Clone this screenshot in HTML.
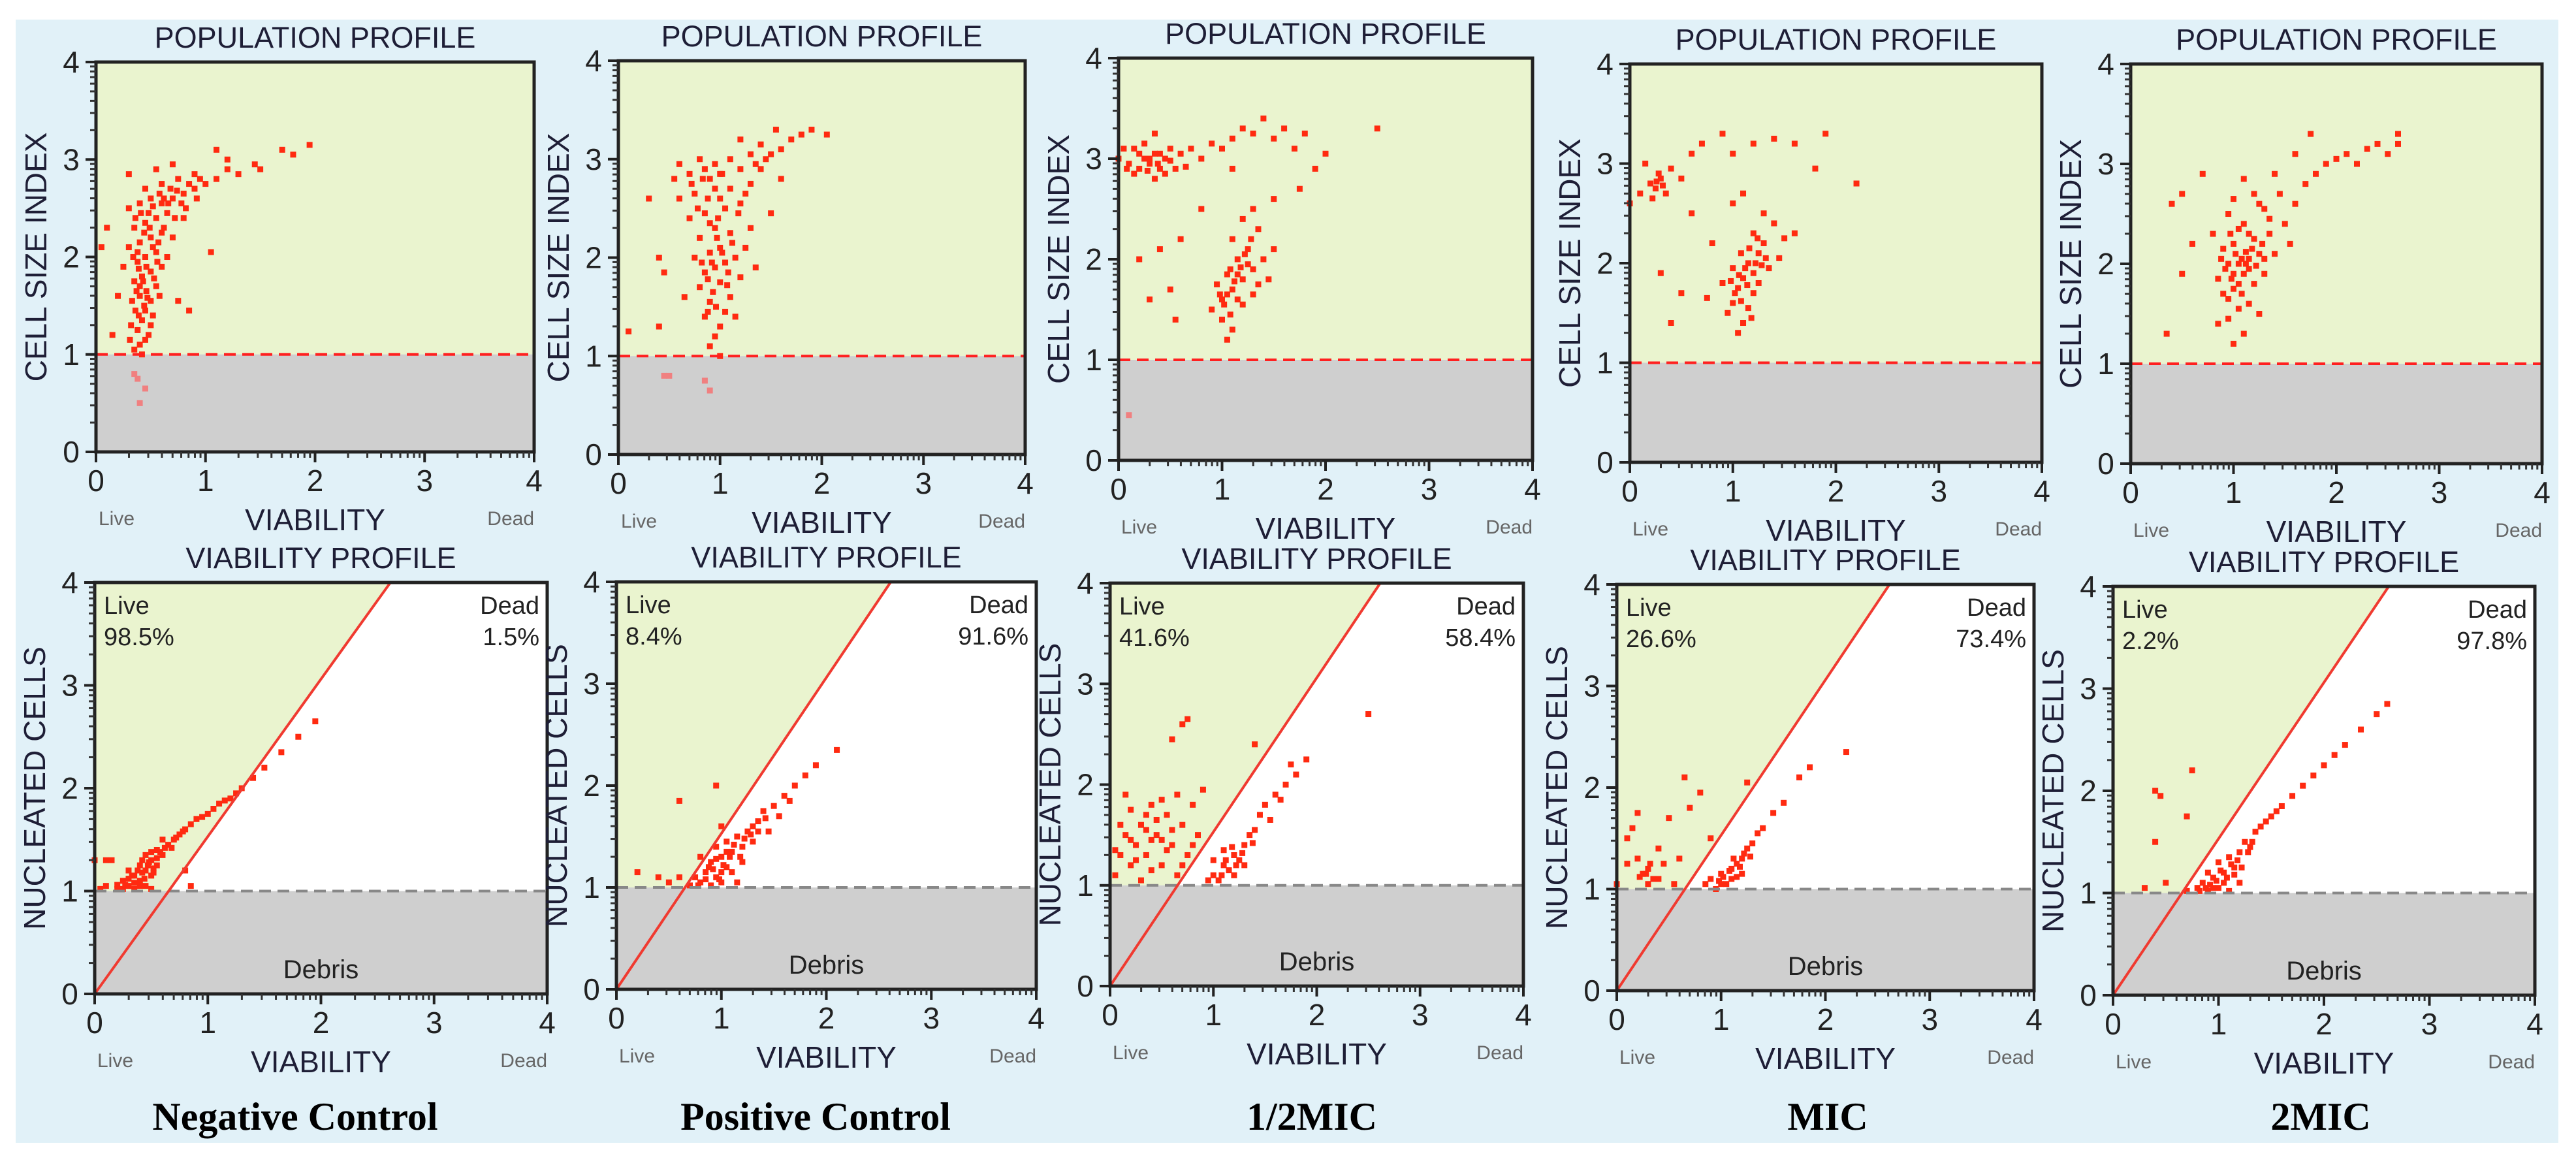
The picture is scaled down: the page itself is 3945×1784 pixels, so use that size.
<!DOCTYPE html>
<html><head><meta charset="utf-8">
<style>
html,body{margin:0;padding:0;background:#fff;}
svg{display:block;font-family:"Liberation Sans",sans-serif;}
</style></head>
<body>
<svg id="fig" width="3945" height="1784" viewBox="0 0 3945 1784" xmlns="http://www.w3.org/2000/svg">
<rect x="24" y="30" width="3894" height="1720" fill="#e1f1f8"/>
</svg>
<script>
// ---- data ----
const groupNames = ["Negative Control","Positive Control","1/2MIC","MIC","2MIC"];
const livePct = ["98.5%","8.4%","41.6%","26.6%","2.2%"];
const deadPct = ["1.5%","91.6%","58.4%","73.4%","97.8%"];
const tickLabels = ["0","1","2","3","4"];
const negPop = [[0.35,1.05],[0.4,1.1],[0.45,1.15],[0.38,1.25],[0.42,1.35],[0.5,1.3],[0.36,1.45],[0.44,1.5],[0.5,1.55],[0.4,1.6],[0.46,1.65],[0.55,1.7],[0.35,1.75],[0.42,1.8],[0.5,1.85],[0.6,1.9],[0.38,1.95],[0.45,2.0],[0.55,2.05],[0.65,2.0],[0.3,2.1],[0.4,2.15],[0.5,2.2],[0.6,2.25],[0.7,2.2],[0.35,2.3],[0.45,2.35],[0.55,2.4],[0.65,2.45],[0.8,2.4],[0.3,2.5],[0.4,2.55],[0.5,2.6],[0.6,2.55],[0.7,2.6],[0.8,2.65],[0.9,2.7],[1.0,2.75],[0.45,2.7],[0.6,2.75],[0.75,2.8],[0.9,2.85],[1.1,2.8],[1.2,2.9],[1.3,2.85],[1.45,2.95],[0.55,2.9],[0.7,2.95],[0.3,2.85],[1.1,3.1],[1.2,3.0],[1.7,3.1],[1.8,3.05],[1.95,3.15],[1.5,2.9],[0.05,2.1],[0.1,2.3],[0.15,1.2],[0.2,1.6],[0.25,1.9],[0.35,0.8],[0.38,0.75],[0.45,0.65],[0.4,0.5],[1.05,2.05],[0.85,1.45],[0.75,1.55],[0.42,1.0],[0.48,1.2],[0.52,1.4],[0.58,1.6],[0.32,1.3],[0.46,1.9],[0.52,2.1],[0.62,2.3],[0.72,2.4],[0.82,2.5],[0.92,2.6],[0.4,1.7],[0.45,1.45],[0.38,2.05],[0.48,2.45],[0.58,2.65],[0.68,2.7],[0.33,1.55],[0.37,1.65],[0.43,1.75],[0.47,1.58],[0.53,1.78],[0.39,1.88],[0.44,2.25],[0.49,2.3],[0.57,2.15],[0.36,2.4],[0.41,2.45],[0.52,2.52],[0.62,2.6],[0.74,2.68],[0.85,2.75],[0.95,2.8],[0.31,1.15],[0.39,1.4],[0.56,1.95],[0.34,2.0],[0.66,2.55],[0.78,2.55]];
const posPop = [[0.9,1.1],[0.95,1.2],[1.0,1.3],[0.85,1.4],[1.05,1.45],[0.9,1.55],[1.1,1.6],[0.8,1.7],[1.0,1.75],[1.2,1.8],[0.85,1.85],[0.95,1.9],[1.05,1.95],[1.15,2.0],[0.75,2.0],[0.9,2.05],[1.0,2.1],[1.25,2.1],[0.8,2.2],[1.1,2.25],[0.95,2.3],[1.3,2.3],[0.7,2.4],[0.85,2.45],[1.05,2.5],[1.2,2.55],[0.6,2.6],[0.75,2.65],[0.95,2.7],[1.1,2.7],[1.3,2.75],[0.55,2.8],[0.7,2.85],[0.85,2.9],[1.0,2.85],[1.2,2.9],[1.4,2.9],[0.6,2.95],[0.8,3.0],[1.1,3.0],[1.3,3.05],[1.5,3.05],[1.6,3.1],[1.4,3.15],[1.7,3.2],[1.8,3.25],[1.9,3.3],[2.05,3.25],[1.55,3.3],[1.2,3.2],[0.4,2.0],[0.3,2.6],[0.45,1.85],[0.1,1.25],[0.4,1.3],[0.5,0.8],[0.45,0.8],[0.85,0.75],[0.9,0.65],[1.0,1.0],[1.15,1.4],[1.35,1.9],[1.5,2.45],[1.6,2.8],[0.65,1.6],[1.25,2.65],[0.98,2.4],[0.88,2.6],[0.92,1.95],[1.02,2.05],[0.9,2.8],[1.0,2.6],[0.88,1.78],[0.93,1.65],[1.07,1.72],[0.82,1.95],[0.97,2.2],[1.12,2.15],[0.78,2.5],[0.9,2.35],[1.02,2.85],[0.72,2.75],[0.83,2.8],[0.95,2.95],[1.35,2.95],[1.45,3.0],[1.18,2.45],[0.88,1.45],[0.96,1.5],[1.08,1.85]];
const halfPop = [[0.0,3.0],[0.1,2.95],[0.2,3.05],[0.3,3.0],[0.4,2.9],[0.5,3.1],[0.25,3.15],[0.35,2.8],[0.45,3.0],[0.6,3.05],[0.15,2.85],[0.55,2.9],[0.7,3.1],[0.8,3.0],[0.9,3.15],[1.0,3.1],[1.1,3.2],[1.2,3.3],[1.3,3.25],[1.4,3.4],[1.5,3.2],[1.6,3.3],[1.7,3.1],[1.8,3.25],[1.9,2.9],[2.0,3.05],[1.75,2.7],[1.5,2.6],[2.5,3.3],[1.1,2.9],[0.35,3.25],[0.05,3.1],[0.8,2.5],[0.6,2.2],[0.4,2.1],[0.2,2.0],[0.5,1.7],[0.3,1.6],[0.55,1.4],[0.9,1.5],[1.0,1.6],[1.1,1.7],[1.2,1.8],[1.3,1.9],[1.4,2.0],[1.05,1.85],[1.15,2.0],[1.25,2.1],[1.35,2.3],[1.1,2.2],[1.2,2.4],[1.0,1.4],[1.1,1.3],[1.05,1.2],[1.2,1.55],[1.3,1.65],[1.45,1.8],[1.5,2.1],[0.95,1.75],[1.15,1.6],[1.08,1.9],[1.25,1.95],[1.3,2.5],[0.1,0.45],[0.3,2.95],[0.4,3.05],[0.2,2.9],[0.25,3.0],[0.35,3.05],[0.45,2.85],[0.15,3.1],[0.28,2.88],[0.38,2.95],[0.5,2.98],[0.65,2.92],[0.08,2.9],[1.05,1.65],[1.12,1.78],[1.18,1.92],[1.02,1.55],[1.22,2.05],[1.08,1.45],[1.28,2.2],[1.15,1.85],[0.98,1.65],[1.35,1.75]];
const micPop = [[0.2,2.8],[0.25,2.75],[0.3,2.85],[0.35,2.7],[0.28,2.9],[0.22,2.65],[0.4,2.95],[0.15,3.0],[0.5,2.85],[0.1,2.7],[0.6,3.1],[0.7,3.2],[0.9,3.3],[1.0,3.1],[1.2,3.2],[1.4,3.25],[1.6,3.2],[1.9,3.3],[2.2,2.8],[1.8,2.95],[0.0,2.6],[0.3,1.9],[0.5,1.7],[0.4,1.4],[0.8,2.2],[0.6,2.5],[0.95,1.5],[1.0,1.6],[1.05,1.75],[1.1,1.85],[1.0,1.95],[1.15,2.0],[1.25,2.1],[1.3,2.2],[1.2,2.3],[1.4,2.4],[1.1,1.4],[1.05,1.3],[1.15,1.55],[1.25,1.8],[1.35,1.95],[1.45,2.05],[1.5,2.25],[0.9,1.8],[1.3,2.5],[1.2,1.7],[1.08,2.1],[1.18,1.45],[1.0,2.6],[1.1,2.7],[0.75,1.65],[1.6,2.3],[1.12,1.95],[1.22,2.0],[0.26,2.82],[0.32,2.78],[1.02,1.7],[1.08,1.62],[1.14,1.78],[1.2,1.9],[1.28,1.98],[1.06,1.88],[0.98,1.82],[1.16,2.15],[1.24,2.25],[1.32,2.05]];
const twoPop = [[1.0,1.2],[1.1,1.3],[0.95,1.45],[1.05,1.55],[1.15,1.6],[0.9,1.7],[1.0,1.75],[1.2,1.8],[0.85,1.85],[1.1,1.9],[1.3,1.9],[0.95,2.0],[1.05,2.0],[1.15,2.05],[1.25,2.1],[1.4,2.1],[0.9,2.15],[1.0,2.2],[1.2,2.25],[1.35,2.3],[0.8,2.3],[1.1,2.4],[1.5,2.4],[0.95,2.5],[1.3,2.55],[1.6,2.6],[1.0,2.65],[1.2,2.7],[1.45,2.7],[1.7,2.8],[1.1,2.85],[1.4,2.9],[1.8,2.9],[1.9,3.0],[2.0,3.05],[2.1,3.1],[2.2,3.0],[2.3,3.15],[2.4,3.2],[2.5,3.1],[2.6,3.2],[2.6,3.3],[1.6,3.1],[1.75,3.3],[0.7,2.9],[0.5,2.7],[0.4,2.6],[0.35,1.3],[0.5,1.9],[0.6,2.2],[1.55,2.2],[1.25,1.5],[0.85,1.4],[1.05,2.35],[1.15,1.95],[1.3,2.05],[1.08,2.05],[1.12,2.12],[1.0,1.9],[0.92,1.95],[0.98,1.85],[1.05,1.8],[1.12,2.0],[1.18,2.15],[1.22,1.98],[0.95,1.65],[1.02,2.1],[1.08,1.7],[0.88,2.05],[1.28,2.2],[1.15,2.3],[0.97,2.3],[1.35,2.45],[1.25,2.6]];
const negVia = [[0.05,1.02],[0.1,1.05],[0.2,1.02],[0.25,1.1],[0.3,1.05],[0.35,1.15],[0.4,1.1],[0.45,1.2],[0.5,1.15],[0.55,1.25],[0.3,1.2],[0.4,1.25],[0.5,1.3],[0.6,1.35],[0.45,1.35],[0.55,1.4],[0.65,1.45],[0.6,1.5],[0.7,1.5],[0.75,1.55],[0.8,1.6],[0.85,1.65],[0.9,1.7],[1.0,1.75],[1.1,1.85],[1.2,1.9],[1.3,2.0],[1.4,2.1],[1.5,2.2],[1.65,2.35],[1.8,2.5],[1.95,2.65],[0.0,1.3],[0.1,1.3],[0.15,1.3],[0.8,1.2],[0.85,1.05],[0.35,1.02],[0.45,1.05],[0.5,1.02],[0.25,1.02],[0.4,1.05],[0.35,1.08],[0.42,1.18],[0.52,1.22],[0.62,1.42],[0.48,1.28],[0.2,1.06],[0.3,1.12],[0.38,1.2],[0.47,1.25],[0.55,1.32],[0.58,1.38],[0.68,1.42],[0.72,1.52],[0.78,1.58],[0.95,1.72],[1.05,1.8],[1.15,1.88],[1.25,1.95],[0.42,1.3],[0.5,1.38],[0.33,1.15],[0.27,1.06],[0.44,1.12],[0.52,1.18]];
const posVia = [[0.7,1.02],[0.8,1.05],[0.9,1.02],[1.0,1.05],[0.75,1.1],[0.85,1.15],[0.95,1.1],[1.05,1.2],[0.9,1.25],[1.0,1.3],[1.1,1.35],[0.95,1.4],[1.05,1.45],[1.15,1.5],[1.2,1.4],[1.25,1.55],[1.3,1.6],[1.35,1.65],[1.4,1.75],[1.5,1.8],[1.6,1.9],[1.65,1.85],[1.7,2.0],[1.8,2.1],[1.9,2.2],[2.1,2.35],[1.1,1.15],[1.2,1.25],[0.6,1.1],[0.5,1.05],[0.4,1.1],[0.2,1.15],[0.6,1.85],[0.95,2.0],[1.15,1.05],[0.8,1.3],[1.0,1.6],[1.3,1.45],[1.45,1.55],[1.55,1.7],[0.92,1.18],[1.02,1.22],[0.85,1.08],[0.95,1.28],[1.0,1.15],[1.08,1.3],[1.12,1.42],[0.88,1.2],[0.78,1.02],[1.18,1.3],[1.22,1.48],[1.28,1.52],[1.35,1.55],[1.42,1.68],[1.05,1.35],[0.98,1.08]];
const halfVia = [[0.05,1.1],[0.1,1.3],[0.15,1.5],[0.2,1.2],[0.25,1.4],[0.3,1.6],[0.35,1.3],[0.4,1.8],[0.45,1.5],[0.5,1.2],[0.55,1.7],[0.6,1.4],[0.65,1.9],[0.7,1.6],[0.75,1.3],[0.8,1.8],[0.85,1.5],[0.9,1.95],[0.3,1.05],[0.5,1.45],[0.2,1.75],[0.4,1.15],[0.15,1.9],[0.65,1.1],[0.1,1.6],[0.35,1.55],[0.7,2.6],[0.75,2.65],[0.6,2.45],[1.4,2.4],[2.5,2.7],[0.95,1.05],[1.0,1.1],[1.05,1.05],[1.1,1.2],[1.15,1.15],[1.2,1.3],[1.25,1.25],[1.3,1.4],[1.35,1.5],[1.4,1.55],[1.45,1.7],[1.5,1.8],[1.6,1.9],[1.7,2.0],[1.8,2.1],[1.9,2.25],[1.2,1.1],[1.3,1.2],[1.1,1.35],[1.0,1.25],[1.55,1.65],[1.65,1.85],[1.75,2.2],[0.25,1.25],[0.45,1.65],[0.55,1.35],[0.35,1.7],[0.6,1.55],[0.2,1.45],[0.4,1.45],[0.7,1.2],[0.8,1.4],[0.5,1.85],[1.12,1.25],[1.22,1.2],[1.28,1.32],[1.38,1.42],[1.08,1.1],[1.18,1.38],[0.05,1.35]];
const micVia = [[0.0,1.05],[0.1,1.5],[0.15,1.6],[0.2,1.3],[0.25,1.15],[0.3,1.2],[0.35,1.1],[0.3,1.05],[0.4,1.4],[0.5,1.7],[0.6,1.3],[0.7,1.8],[0.8,1.95],[0.65,2.1],[0.45,1.25],[0.55,1.05],[0.2,1.75],[0.9,1.5],[0.85,1.05],[0.9,1.1],[0.95,1.0],[1.0,1.15],[1.05,1.05],[1.1,1.2],[1.15,1.25],[1.2,1.3],[1.25,1.4],[1.3,1.45],[1.35,1.55],[1.0,1.05],[1.1,1.1],[1.2,1.15],[1.4,1.6],[1.5,1.75],[1.6,1.85],[1.75,2.1],[1.85,2.2],[2.2,2.35],[1.25,2.05],[0.28,1.15],[0.32,1.25],[0.22,1.12],[1.02,1.12],[1.08,1.18],[1.12,1.3],[1.18,1.22],[1.22,1.35],[1.28,1.32],[0.98,1.08],[1.15,1.12],[0.4,1.1],[0.1,1.25]];
const twoVia = [[0.7,1.02],[0.8,1.05],[0.9,1.02],[1.0,1.05],[1.1,1.02],[0.85,1.1],[0.95,1.15],[1.05,1.2],[1.15,1.25],[1.0,1.3],[1.1,1.35],[1.2,1.4],[1.3,1.45],[1.25,1.5],[1.35,1.6],[1.4,1.65],[1.5,1.75],[1.6,1.85],[1.7,1.95],[1.8,2.05],[1.9,2.15],[2.0,2.25],[2.1,2.35],[2.2,2.45],[2.35,2.6],[2.5,2.75],[2.6,2.85],[0.9,1.2],[1.2,1.1],[0.4,2.0],[0.45,1.95],[0.75,2.2],[0.7,1.75],[0.4,1.5],[0.5,1.1],[0.3,1.05],[0.95,1.05],[1.05,1.1],[0.88,1.05],[0.98,1.12],[1.08,1.15],[1.12,1.28],[1.18,1.32],[1.22,1.25],[1.02,1.22],[0.92,1.08],[1.28,1.4],[1.32,1.5],[1.45,1.7],[1.55,1.8],[1.15,1.18],[0.82,1.02]];
const popSeries = [negPop,posPop,halfPop,micPop,twoPop];
const viaSeries = [negVia,posVia,halfVia,micVia,twoVia];
const gateSize = 1;
const gateSlope = 1.53;

// ---- layout ----
const topBoxes = [[147,818,95,692],[947,1570,93,696],[1713,2347,89,705],[2496,3127,98,708],[3263,3893,98,710]];
const botBoxes = [[145,838,892,1522],[944,1587,891,1515],[1700,2333,893,1510],[2476,3115,895,1517],[3236,3882,898,1524]];
const titleX = [452,1249,2009,2799,3554];
const NS="http://www.w3.org/2000/svg";
const svg=document.getElementById('fig');
function mk(tag,attrs,parent){const e=document.createElementNS(NS,tag);for(const k in attrs)e.setAttribute(k,attrs[k]);(parent||svg).appendChild(e);return e;}

function drawPanel(box, pts, kind, idx){
  const [x0,x1,y0,y1]=box;
  const sx=v=>x0+(x1-x0)*v/4, sy=v=>y1-(y1-y0)*v/4;
  const g=mk('g',{});
  
  
  if(kind==='pop'){
    mk('rect',{x:x0,y:y0,width:x1-x0,height:sy(gateSize)-y0,fill:'#eaf4cf'},g);
    mk('rect',{x:x0,y:sy(gateSize),width:x1-x0,height:y1-sy(gateSize),fill:'#cfcfcf'},g);
  } else {
    mk('rect',{x:x0,y:y0,width:x1-x0,height:sy(gateSize)-y0,fill:'#ffffff'},g);
    const xt=4/gateSlope, xg=gateSize/gateSlope;
    mk('polygon',{points:`${x0},${y0} ${sx(xt)},${y0} ${sx(xg)},${sy(gateSize)} ${x0},${sy(gateSize)}`,fill:'#eaf4cf'},g);
    mk('rect',{x:x0,y:sy(gateSize),width:x1-x0,height:y1-sy(gateSize),fill:'#cfcfcf'},g);
  }
  for(const p of pts){
    const c=mk('rect',{x:sx(p[0])-4.5,y:sy(p[1])-4.5,width:9,height:9,fill:p[1]<gateSize?'#f08080':'#ff2a10'},g);
    
    
  }
  const gl=mk('line',{x1:x0,x2:x1,y1:sy(gateSize),y2:sy(gateSize),stroke:kind==='pop'?'#ff2020':'#888',"stroke-width":4,"stroke-dasharray":"18,10"},g);
  
  
  if(kind==='via'){
    const dl=mk('line',{x1:sx(0),y1:sy(0),x2:sx(4/gateSlope),y2:sy(4),stroke:'#f03a30',"stroke-width":4},g);
    
    
  }
  mk('rect',{x:x0,y:y0,width:x1-x0,height:y1-y0,fill:'none',stroke:'#222',"stroke-width":5},g);
  for(let i=0;i<=4;i++){
    mk('line',{x1:sx(i),x2:sx(i),y1:y1,y2:y1+16,stroke:'#222',"stroke-width":4},g);
    mk('line',{x1:x0,x2:x0-16,y1:sy(i),y2:sy(i),stroke:'#222',"stroke-width":4},g);
    const tx=mk('text',{x:sx(i),y:y1+60,"font-size":46,"text-anchor":"middle",fill:'#222'},g);
    tx.textContent=tickLabels[i];
    
    
    const ty=mk('text',{x:x0-38,y:sy(i)+16,"font-size":46,"text-anchor":"middle",fill:'#222'},g);
    ty.textContent=tickLabels[i];
    
    
    if(i<4)for(let k=2;k<=9;k++){
      const v=i+Math.log10(k);
      mk('line',{x1:sx(v),x2:sx(v),y1:y1,y2:y1+9,stroke:'#333',"stroke-width":3},g);
      mk('line',{x1:x0,x2:x0-9,y1:sy(v),y2:sy(v),stroke:'#333',"stroke-width":3},g);
    }
  }
  const cx=(x0+x1)/2;
  const t=mk('text',{x:cx,y:y0-22,"font-size":45,"text-anchor":"middle",fill:'#1e1e36'},g);
  t.textContent=kind==='pop'?'POPULATION PROFILE':'VIABILITY PROFILE';
  
  
  const yt=mk('text',{x:0,y:0,"font-size":46,"text-anchor":"middle",fill:'#1e1e36',transform:`translate(${x0-76},${(y0+y1)/2}) rotate(-90)`},g);
  yt.textContent=kind==='pop'?'CELL SIZE INDEX':'NUCLEATED CELLS';
  
  
  const xt=mk('text',{x:cx,y:y1+120,"font-size":46,"text-anchor":"middle",fill:'#1e1e36'},g);
  xt.textContent='VIABILITY';
  
  
  const lv=mk('text',{x:x0+4,y:y1+112,"font-size":30,fill:'#666'},g);
  lv.textContent='Live';
  
  
  const dd=mk('text',{x:x1,y:y1+112,"font-size":30,"text-anchor":"end",fill:'#666'},g);
  dd.textContent='Dead';
  
  
  if(kind==='via'){
    const a=mk('text',{x:x0+14,y:y0+48,"font-size":38,fill:'#222'},g);a.textContent='Live';
    
    const b=mk('text',{x:x0+14,y:y0+96,"font-size":38,fill:'#222'},g);b.textContent=livePct[idx];
    
    const c=mk('text',{x:x1-12,y:y0+48,"font-size":38,"text-anchor":"end",fill:'#222'},g);c.textContent='Dead';
    
    const d=mk('text',{x:x1-12,y:y0+96,"font-size":38,"text-anchor":"end",fill:'#222'},g);d.textContent=deadPct[idx];
    
    const e=mk('text',{x:cx,y:y1-24,"font-size":40,"text-anchor":"middle",fill:'#222'},g);e.textContent='Debris';
    
  }
}
for(let i=0;i<5;i++){
  drawPanel(topBoxes[i],popSeries[i],'pop',i);
  drawPanel(botBoxes[i],viaSeries[i],'via',i);
  const gt=mk('text',{x:titleX[i],y:1730,"font-size":60,"font-weight":"bold","text-anchor":"middle",fill:'#000',"font-family":'"Liberation Serif",serif'});
  gt.textContent=groupNames[i];
  
  
}
</script>
</body></html>
